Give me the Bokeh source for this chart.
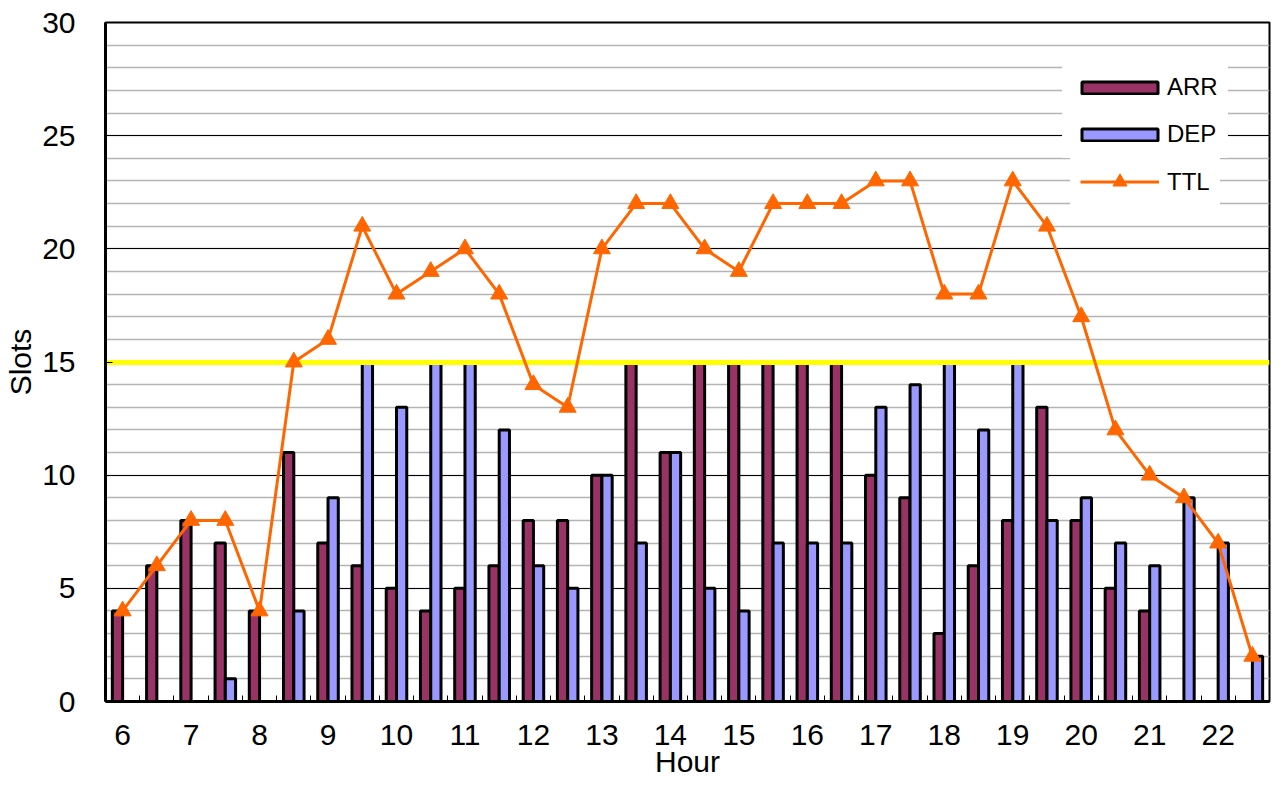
from bokeh.plotting import figure
from bokeh.models import (Range1d, FixedTicker, SingleIntervalTicker, Legend,
                          LegendItem, ColumnDataSource)
from bokeh.transform import dodge
from bokeh.embed import file_html
from bokeh.resources import INLINE

# ---- data ----
slots = ["6:00", "6:30", "7:00", "7:30", "8:00", "8:30", "9:00", "9:30",
         "10:00", "10:30", "11:00", "11:30", "12:00", "12:30", "13:00", "13:30",
         "14:00", "14:30", "15:00", "15:30", "16:00", "16:30", "17:00", "17:30",
         "18:00", "18:30", "19:00", "19:30", "20:00", "20:30", "21:00", "21:30",
         "22:00", "22:30"]
hour_labels = ["6", "7", "8", "9", "10", "11", "12", "13", "14", "15", "16",
               "17", "18", "19", "20", "21", "22"]
arr = [4, 6, 8, 7, 4, 11, 7, 6, 5, 4, 5, 6, 8, 8, 10, 15, 11, 15, 15, 15, 15, 15,
       10, 9, 3, 6, 8, 13, 8, 5, 4, 0, 0, 0]
dep = [0, 0, 0, 1, 0, 4, 9, 15, 13, 15, 15, 12, 6, 5, 10, 7, 11, 5, 4, 7, 7, 7,
       13, 14, 15, 12, 15, 8, 9, 7, 6, 9, 7, 2]
ttl = [4, 6, 8, 8, 4, 15, 16, 21, 18, 19, 20, 18, 14, 13, 20, 22, 22, 20, 19, 22,
       22, 22, 23, 23, 18, 18, 23, 21, 17, 12, 10, 9, 7, 2]
capacity = 15

FONT = "Liberation Sans"
idx = list(range(len(slots)))
src = ColumnDataSource(dict(idx=idx, slot=slots, arr=arr, dep=dep, ttl=ttl))

W, H = 1271, 780
LB, RB, TB, BB = 105, 2, 22, 77
p = figure(width=W, height=H, output_backend="svg", toolbar_location=None,
           x_range=Range1d(-0.5, len(slots) - 0.5), y_range=Range1d(0, 30),
           min_border_left=LB, min_border_right=RB, min_border_top=TB,
           min_border_bottom=BB, background_fill_color="white",
           border_fill_color="white")

r_arr = p.vbar(x=dodge("idx", -0.15), top="arr", width=0.3, source=src,
               fill_color="#993366", line_color="black", line_width=3)
r_dep = p.vbar(x=dodge("idx", 0.15), top="dep", width=0.3, source=src,
               fill_color="#9999FF", line_color="black", line_width=3)
p.hspan(y=[capacity], line_color="#FFFF00", line_width=5)
r_line = p.line("idx", "ttl", source=src, line_color="#FF6600", line_width=3)
r_sc = p.scatter("idx", "ttl", source=src, marker="triangle", size=17,
                 fill_color="#FF6600", line_color="#FF6600")

# ---- axes ----
xa = p.xaxis[0]
xa.ticker = FixedTicker(ticks=idx[::2], minor_ticks=[i + 0.5 for i in idx[:-1]])
xa.major_label_overrides = {t: lab for t, lab in zip(idx[::2], hour_labels)}
xa.major_tick_in = 0
xa.major_tick_out = 0
xa.minor_tick_in = 6
xa.minor_tick_out = 0
xa.minor_tick_line_color = "black"
xa.axis_line_width = 3
xa.axis_line_color = "black"
xa.major_label_text_font = FONT
xa.major_label_text_font_size = "30px"
xa.major_label_text_color = "black"
xa.major_label_standoff = 23
xa.axis_label = "Hour"
xa.axis_label_text_font = FONT
xa.axis_label_text_font_size = "30px"
xa.axis_label_text_font_style = "normal"
xa.axis_label_text_color = "black"
xa.axis_label_standoff = -3

yt = SingleIntervalTicker(interval=5, num_minor_ticks=5)
ya = p.yaxis[0]
ya.ticker = yt
ya.major_tick_in = 7
ya.major_tick_out = 0
ya.minor_tick_in = 0
ya.minor_tick_out = 0
ya.major_tick_line_color = "black"
ya.axis_line_width = 3
ya.axis_line_color = "black"
ya.major_label_text_font = FONT
ya.major_label_text_font_size = "30px"
ya.major_label_text_color = "black"
ya.major_label_standoff = 30
ya.axis_label = "Slots"
ya.axis_label_text_font = FONT
ya.axis_label_text_font_size = "30px"
ya.axis_label_text_font_style = "normal"
ya.axis_label_text_color = "black"
ya.axis_label_standoff = 2

p.xgrid.visible = False
p.ygrid.ticker = yt
p.ygrid.grid_line_color = "black"
p.ygrid.grid_line_width = 1
p.ygrid.minor_grid_line_color = "#B4B4B4"
p.ygrid.minor_grid_line_width = 1.5

p.outline_line_color = "black"
p.outline_line_width = 2
p.outline_line_alpha = 1

# ---- legends ----
common = dict(border_line_alpha=0, background_fill_color="white",
              background_fill_alpha=1, label_text_font=FONT,
              label_text_font_size="24px", label_text_color="black",
              label_height=28, padding=10)
leg2 = Legend(items=[LegendItem(label="TTL", renderers=[r_line, r_sc])],
              location=(965, 492),
              glyph_width=79, glyph_height=35, label_standoff=8, **common)
leg1 = Legend(items=[LegendItem(label="ARR", renderers=[r_arr]),
                     LegendItem(label="DEP", renderers=[r_dep])],
              location=(957, 543),
              glyph_width=95, glyph_height=15, spacing=19, label_standoff=0,
              **common)
p.add_layout(leg2)
p.add_layout(leg1)

open("out.html", "w").write(file_html(p, INLINE))
